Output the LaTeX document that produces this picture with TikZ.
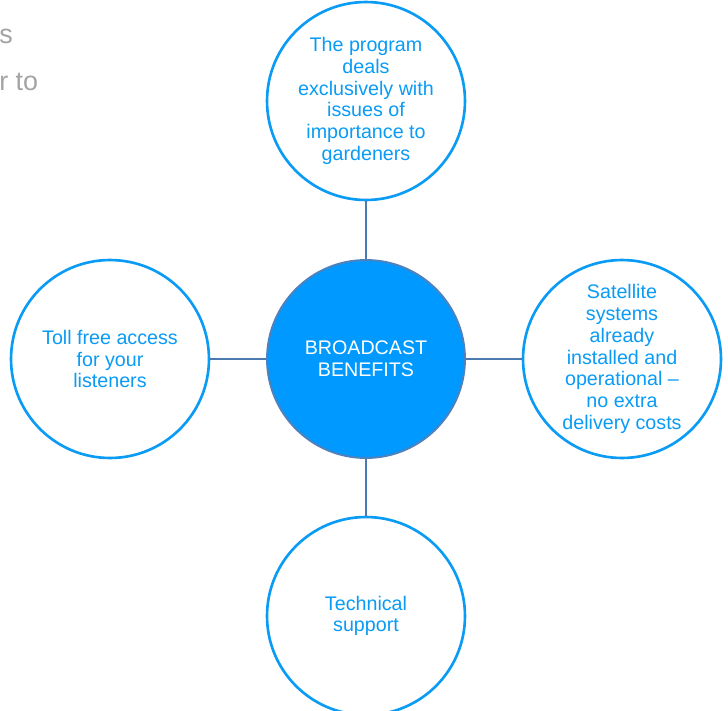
\documentclass[tikz,border=0pt]{standalone}
\usepackage{fontspec}
\setmainfont{Liberation Sans}
\definecolor{hubfill}{HTML}{0099FF}
\definecolor{hubedge}{HTML}{4F81BD}
\definecolor{ringblue}{HTML}{0A9BF5}
\definecolor{spoke}{HTML}{4A7AB0}
\definecolor{fadedgray}{HTML}{A3A3A3}

\tikzset{
	benefit/.style={circle, draw=ringblue, line width=1.5pt, fill=white,
		minimum size=3.96cm, inner sep=0pt, align=center, text=ringblue,
		font=\fontsize{11.2}{12.4}\selectfont},
	hub/.style={benefit, draw=hubedge, line width=1.1pt, fill=hubfill, text=white},
	spokeline/.style={draw=spoke, line width=1.15pt}
}

\begin{document}
\begin{tikzpicture}[x=0.02cm, y=-0.02cm]
			\clip (0, 0) rectangle (728, 711);
			\node [anchor=base west, inner sep=0pt, text=fadedgray, font=\fontsize{15.3}{18}\selectfont] (restA) at (-1, 43) {s};
			\node [anchor=base west, inner sep=0pt, text=fadedgray, font=\fontsize{15.3}{18}\selectfont] (restB) at (-1, 90) {r to};
			\node [hub] (hub) at (366, 359) {BROADCAST\\BENEFITS};
			\node [benefit] (top) at (366, 101) {The program\\deals\\exclusively with\\issues of\\importance to\\gardeners};
			\node [benefit] (right) at (622, 359) {Satellite\\systems\\already\\installed and\\operational --\\no extra\\delivery costs};
			\node [benefit] (bottom) at (366, 616) {Technical\\support};
			\node [benefit] (left) at (110, 359) {Toll free access\\for your\\listeners};
			\draw [spokeline] (hub) -- (top);
			\draw [spokeline] (hub) -- (right);
			\draw [spokeline] (hub) -- (bottom);
			\draw [spokeline] (hub) -- (left);
	\end{tikzpicture}
\end{document}
